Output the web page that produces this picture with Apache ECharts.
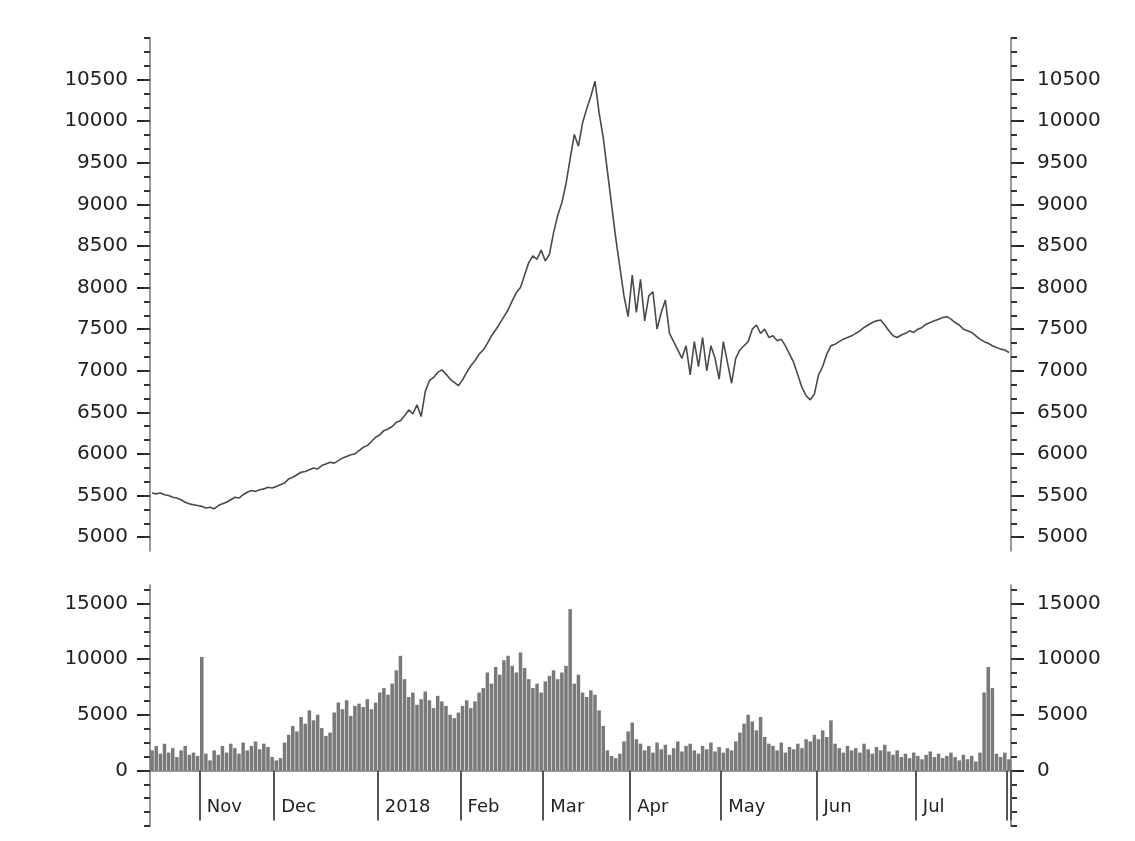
<!DOCTYPE html>
<html>
<head>
<meta charset="utf-8">
<script src="https://cdn.jsdelivr.net/npm/echarts@6/dist/echarts.min.js"></script>
<style>
  html, body { margin: 0; padding: 0; background: #fff; }
  #chart { width: 1135px; height: 841px; }
</style>
</head>
<body>
<div id="chart"></div>
<script>
// 刻度标签
const priceTicks = [5000, 5500, 6000, 6500, 7000, 7500, 8000, 8500, 9000, 9500, 10000, 10500];
const volumeTicks = [0, 5000, 10000, 15000];
const monthLabels = ['Nov', 'Dec', '2018', 'Feb', 'Mar', 'Apr', 'May', 'Jun', 'Jul', ''];
const monthStarts = [12, 30, 55, 75, 95, 116, 138, 161, 185, 207];

// 收盘价
const closes = [
  5530, 5520, 5530, 5510, 5500, 5480, 5470, 5450, 5420, 5400,
  5390, 5380, 5370, 5350, 5360, 5340, 5380, 5400, 5420, 5450,
  5480, 5470, 5510, 5540, 5560, 5550, 5570, 5580, 5600, 5590,
  5610, 5630, 5650, 5700, 5720, 5750, 5780, 5790, 5810, 5830,
  5820, 5860, 5880, 5900, 5890, 5920, 5950, 5970, 5990, 6000,
  6040, 6080, 6100, 6150, 6200, 6230, 6280, 6300, 6330, 6380,
  6400, 6460, 6530, 6480, 6590, 6450, 6750, 6880, 6920, 6980,
  7010, 6960, 6900, 6860, 6820, 6890, 6980, 7060, 7120, 7200,
  7250, 7330, 7420, 7490, 7570, 7650, 7730, 7840, 7940, 8000,
  8150, 8300, 8380, 8340, 8450, 8320, 8400, 8660, 8870, 9020,
  9250, 9550, 9840, 9700, 9980, 10150, 10300, 10480, 10100, 9800,
  9400, 9000, 8600, 8250, 7900, 7650, 8150, 7700, 8100, 7600,
  7900, 7950, 7500, 7700, 7850, 7450, 7350, 7250, 7150, 7300,
  6950, 7350, 7050, 7400, 7000, 7300, 7150, 6900, 7350, 7100,
  6850, 7150, 7250, 7300, 7350, 7500, 7550, 7450, 7500, 7400,
  7420, 7360, 7380, 7300, 7200, 7100, 6950, 6800, 6700, 6650,
  6720, 6950, 7050, 7200, 7300, 7320, 7350, 7380, 7400, 7420,
  7450, 7480, 7520, 7550, 7580, 7600, 7610, 7550, 7480, 7420,
  7400, 7430, 7450, 7480, 7460, 7500, 7520, 7560, 7580, 7600,
  7620, 7640, 7650, 7620, 7580, 7550, 7500, 7480, 7460, 7420,
  7380, 7350, 7330, 7300, 7280, 7260, 7250, 7220
];

// 成交量
const volumes = [
  1800, 2200, 1500, 2400, 1600, 2000, 1200, 1800, 2200, 1400,
  1600, 1300, 10200, 1500, 900, 1800, 1400, 2200, 1600, 2400,
  2000, 1500, 2500, 1800, 2200, 2600, 1900, 2400, 2100, 1200,
  900, 1100, 2500, 3200, 4000, 3500, 4800, 4200, 5400, 4500,
  5000, 3800, 3100, 3400, 5200, 6100, 5500, 6300, 4900, 5800,
  6000, 5700, 6400, 5500, 6100, 7000, 7400, 6800, 7800, 9000,
  10300, 8200, 6600, 7000, 5900, 6400, 7100, 6300, 5600, 6700,
  6200, 5800, 5000, 4700, 5200, 5800, 6300, 5600, 6200, 7000,
  7400, 8800, 7800, 9300, 8600, 9900, 10300, 9400, 8800, 10600,
  9200, 8200, 7400, 7800, 7000, 8000, 8500, 9000, 8200, 8800,
  9400, 14500, 7800, 8600, 7000, 6600, 7200, 6800, 5400, 4000,
  1800, 1300, 1100, 1500, 2600, 3500, 4300, 2800, 2400, 1800,
  2200, 1600, 2500, 1900, 2300, 1400, 2000, 2600, 1700, 2200,
  2400, 1800, 1500, 2200, 1900, 2500, 1700, 2100, 1600, 2000,
  1800, 2600, 3400, 4200, 5000, 4400, 3600, 4800, 3000, 2400,
  2200, 1800, 2500, 1600, 2100, 1900, 2400, 2000, 2800, 2600,
  3200, 2800, 3600, 3000, 4500, 2400, 2000, 1600, 2200, 1800,
  2000, 1600, 2400, 1900, 1500, 2100, 1800, 2300, 1700, 1400,
  1800, 1200, 1500, 1100, 1600, 1300, 1000, 1400, 1700, 1200,
  1500, 1100, 1300, 1600, 1200, 900, 1400, 1000, 1300, 800,
  1600, 7000, 9300, 7400, 1500, 1200, 1600, 1000
];

const days = closes.map((v, i) => String(i));

// 次刻度：在主刻度之间等分
function minorValues(ticks, parts, below) {
  const step = ticks[1] - ticks[0];
  const out = [];
  const start = ticks[0] - below * step;
  const end = ticks[ticks.length - 1] + step;
  for (let v = start; v <= end + 1e-6; v += step / parts) out.push(v);
  return out;
}

const textColor = '#222';
const lineColor = '#777';

function valueAxes(gridIndex, min, max, ticks, minor) {
  const base = {
    type: 'value',
    gridIndex,
    min,
    max,
    scale: true,
    splitLine: { show: false },
  };
  const labeled = side => ({
    ...base,
    position: side,
    axisLine: { show: true, lineStyle: { color: lineColor, width: 1.5 } },
    axisTick: { show: true, customValues: ticks, length: 13, lineStyle: { color: '#222', width: 2 } },
    axisLabel: {
      show: true,
      customValues: ticks,
      formatter: v => String(Math.round(v)),
      color: textColor,
      fontSize: 20,
      fontFamily: 'DejaVu Sans',
      margin: side === 'left' ? 22 : 26,
    },
  });
  const minorAxis = side => ({
    ...base,
    position: side,
    axisLine: { show: false },
    axisTick: { show: true, customValues: minor, length: 6, lineStyle: { color: '#333', width: 2 } },
    axisLabel: { show: false },
  });
  return [labeled('left'), minorAxis('left'), labeled('right'), minorAxis('right')];
}

const myChart = echarts.init(document.getElementById('chart'));

const priceMinor = minorValues(priceTicks, 3, 0).filter(v => v > 4833 && v < 11000);
const volumeMinor = minorValues(volumeTicks, 4, 1).filter(v => v >= -5000 && v < 16660);

const option = {
  backgroundColor: '#fff',
  animation: false,
  grid: [
    { left: 150, right: 124, top: 38, height: 513, outerBoundsMode: 'none' },
    { left: 150, right: 124, top: 585, height: 241, outerBoundsMode: 'none' },
  ],
  xAxis: [
    {
      type: 'category',
      gridIndex: 0,
      data: days,
      boundaryGap: true,
      show: false,
    },
    {
      type: 'category',
      gridIndex: 1,
      data: days,
      boundaryGap: true,
      axisLine: { show: true, onZero: true, lineStyle: { color: lineColor, width: 1.5 } },
      axisTick: {
        show: true,
        interval: idx => monthStarts.includes(idx),
        length: 50,
        lineStyle: { color: '#555', width: 2 },
      },
      axisLabel: {
        show: true,
        interval: idx => monthStarts.includes(idx),
        formatter: (val, idx) => {
          const k = monthStarts.indexOf(idx);
          return k >= 0 ? monthLabels[k] : '';
        },
        align: 'left',
        padding: [0, 0, 0, 5],
        margin: -28,
        color: textColor,
        fontSize: 18,
        fontFamily: 'DejaVu Sans',
      },
      splitLine: { show: false },
    },
  ],
  yAxis: [
    ...valueAxes(0, 4833.3333, 11000, priceTicks, priceMinor),
    ...valueAxes(1, -5000, 16666.667, volumeTicks, volumeMinor),
  ],
  series: [
    {
      name: 'Close',
      type: 'line',
      xAxisIndex: 0,
      yAxisIndex: 0,
      data: closes,
      showSymbol: false,
      lineStyle: { color: '#4a4a4a', width: 1.6 },
    },
    {
      name: 'Volume',
      type: 'bar',
      xAxisIndex: 1,
      yAxisIndex: 4,
      data: volumes,
      barCategoryGap: '15%',
      itemStyle: { color: '#6a6a6a', opacity: 0.9 },
    },
  ],
};

myChart.setOption(option);
</script>
</body>
</html>
